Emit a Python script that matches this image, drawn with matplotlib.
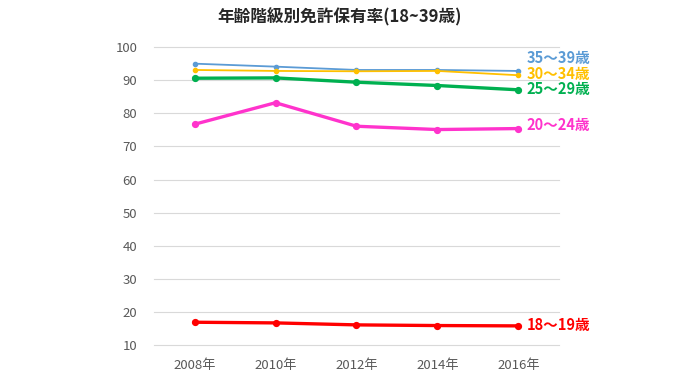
import matplotlib
matplotlib.use('Agg')
import matplotlib.pyplot as plt

plt.rcParams['font.family'] = ['Noto Sans CJK JP', 'DejaVu Sans']

#Years and license holding rates (%) per age group
years = ['2008年', '2010年', '2012年', '2014年', '2016年']
rate_35_39 = [95.0, 94.1, 93.1, 93.1, 92.8]
rate_30_34 = [93.1, 92.8, 92.7, 92.8, 91.5]
rate_25_29 = [90.6, 90.7, 89.4, 88.4, 87.1]
rate_20_24 = [76.7, 83.2, 76.1, 75.1, 75.4]
rate_18_19 = [16.9, 16.7, 16.1, 15.9, 15.8]

labels = ['35～39歳', '30～34歳', '25～29歳', '20～24歳', '18～19歳']
colors = ['#5B9BD5', '#FFC000', '#00B050', '#FF33CC', '#FF0000']
widths = [1.3, 1.3, 2.4, 2.4, 2.4]
msizes = [3, 3, 4.2, 4.2, 4.2]
label_y = [96.7, 92.0, 87.3, 76.5, 16.0]
series = [rate_35_39, rate_30_34, rate_25_29, rate_20_24, rate_18_19]

fig = plt.figure(figsize=(6.8, 3.83), dpi=100)
ax = fig.add_axes([0.2265, 0.099, 0.5955, 0.778])

x = list(range(len(years)))
for vals, lab, c, lw, ms, ly in zip(series, labels, colors, widths, msizes, label_y):
    ax.plot(x, vals, color=c, lw=lw, marker='o', ms=ms, zorder=3)
    ax.annotate(lab, xy=(x[-1], ly), xytext=(6, 0), textcoords='offset points',
                color=c, fontsize=10.5, fontweight='bold', va='center', ha='left',
                annotation_clip=False)

ax.set_xlim(-0.5, len(years) - 0.5)
ax.set_ylim(10, 100)
ax.set_yticks(range(10, 101, 10))
ax.set_xticks(x)
ax.set_xticklabels(years)
ax.grid(axis='y', color='#D9D9D9', lw=0.8)
for gl in ax.get_ygridlines():
    gl.set_clip_on(False)
ax.set_axisbelow(True)
for s in ax.spines.values():
    s.set_visible(False)
ax.tick_params(length=0, colors='#595959', labelsize=9.5)
ax.tick_params(axis='y', pad=12)
ax.tick_params(axis='x', pad=10)

fig.text(0.5, 0.955, '年齢階級別免許保有率(18~39歳)', ha='center', va='center',
         fontsize=12, fontweight='bold', color='#262626')

fig.savefig('out.png', dpi=100)
